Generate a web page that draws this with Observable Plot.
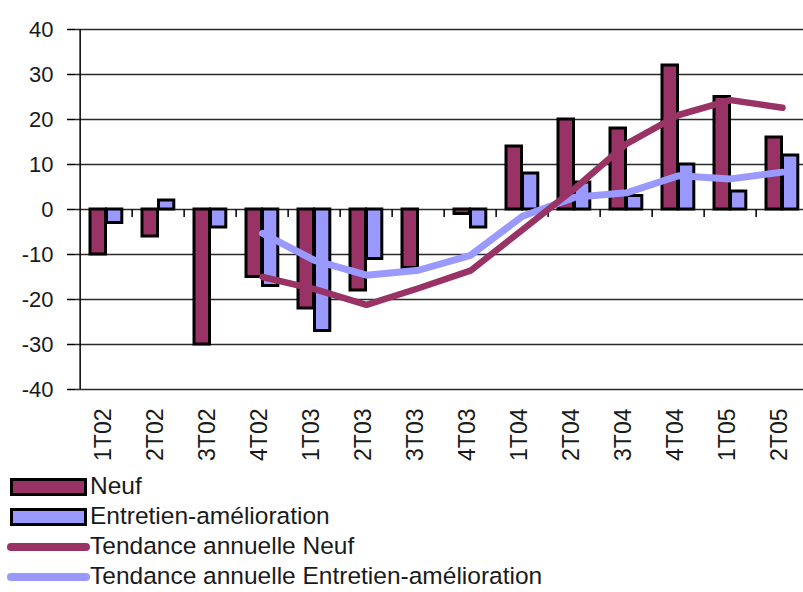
<!DOCTYPE html>
<html><head><meta charset="utf-8">
<script src="https://cdn.jsdelivr.net/npm/d3@7"></script>
<script src="https://cdn.jsdelivr.net/npm/@observablehq/plot@0.6"></script>
<style>
html,body{margin:0;padding:0;overflow:hidden;background:#fff;width:803px;height:592px;}
#chart{position:absolute;left:0;top:0;width:813px;}
#chart svg{max-width:none !important;}
#legend{position:absolute;left:0;top:472px;font-family:"Liberation Sans",Arial,sans-serif;font-size:24.5px;color:#1a1a1a;}
.row{height:30px;position:relative;width:760px;}
.sw{position:absolute;left:10px;top:6px;width:71px;height:12px;border:3px solid #000;}
.ln{position:absolute;left:7px;top:11px;width:83px;height:8px;border-radius:4px;}
.lab{position:absolute;left:90px;top:0px;white-space:nowrap;}
</style></head><body>
<div id="chart"></div>
<div id="legend"></div>
<script>
const quarters = ["1T02","2T02","3T02","4T02","1T03","2T03","3T03","4T03","1T04","2T04","3T04","4T04","1T05","2T05"];
const neuf = [-10,-6,-30,-15,-22,-18,-13,-1,14,20,18,32,25,16];
const entretien = [-3,2,-4,-17,-27,-11,0,-4,8,6,3,10,4,12];
const tendanceNeuf = [null,null,null,-15,-17.7,-21.2,-17.5,-13.6,-4.5,4.6,14.6,21,24.3,22.6];
const tendanceEntretien = [null,null,null,-5.3,-11.3,-14.6,-13.5,-10.2,-1.5,2.7,3.7,7.5,6.8,8.3];
const yTicks = [-40,-30,-20,-10,0,10,20,30,40];
const seriesNames = ["Neuf","Entretien-amélioration","Tendance annuelle Neuf","Tendance annuelle Entretien-amélioration"];
const seriesColors = ["#993366","#9999FF","#993366","#9999FF"];
const seriesKinds = ["bar","bar","line","line"];

const rows = quarters.map((q,i)=>({q, neuf:neuf[i], ent:entretien[i], tn:tendanceNeuf[i], te:tendanceEntretien[i]}));
const W = 813, H = 470, bottom = 389;
const half = (W - 75) / quarters.length / 2;
const plot = Plot.plot({
  width: W, height: H,
  marginLeft: 75, marginRight: 0, marginTop: 29, marginBottom: H - bottom,
  style: {fontFamily: "Liberation Sans, Arial, sans-serif", color: "#1a1a1a", background: "#fff", overflow: "visible", maxWidth: "none"},
  x: {type: "band", domain: quarters, padding: 0, axis: null, label: null},
  y: {domain: [-40, 40], axis: null, label: null},
  marks: [
    Plot.ruleY(yTicks, {stroke: "#2a2a2a", strokeWidth: 1.5}),
    Plot.barY(rows, {x: "q", y: "neuf", fill: seriesColors[0], stroke: "#000", strokeWidth: 3, insetLeft: 10, insetRight: 26.5}),
    Plot.barY(rows, {x: "q", y: "ent", fill: seriesColors[1], stroke: "#000", strokeWidth: 3, insetLeft: 26.5, insetRight: 10.2}),
    Plot.ruleX(quarters.slice(1), {x: d => d, y1: 0, y2: -1.8, dx: -half, stroke: "#000", strokeWidth: 1.5}),
    Plot.ruleX([quarters[0]], {x: d => d, y1: -40, y2: 40, dx: -half, stroke: "#000", strokeWidth: 1.5}),
    Plot.line(rows, {x: "q", y: "te", stroke: seriesColors[3], strokeWidth: 7, strokeLinecap: "round", strokeLinejoin: "round"}),
    Plot.line(rows, {x: "q", y: "tn", stroke: seriesColors[2], strokeWidth: 6.5, strokeLinecap: "round", strokeLinejoin: "round"}),
    Plot.axisY(yTicks, {tickSize: 8, tickPadding: 14, tickFormat: d => String(d), fontSize: 22, stroke: "#000", strokeWidth: 1.5, label: null}),
    Plot.axisX({tickSize: 0, tickRotate: -90, tickPadding: 19, fontSize: 23, anchor: "bottom", label: null, dx: -3})
  ]
});
plot.style.maxWidth = "none";
document.getElementById("chart").appendChild(plot);

const legend = document.getElementById("legend");
seriesNames.forEach((name, i) => {
  const row = document.createElement("div");
  row.className = "row";
  const sw = document.createElement("div");
  sw.className = seriesKinds[i] === "bar" ? "sw" : "ln";
  sw.style.background = seriesColors[i];
  const lab = document.createElement("div");
  lab.className = "lab";
  lab.textContent = name;
  row.appendChild(sw);
  row.appendChild(lab);
  legend.appendChild(row);
});
</script>
</body></html>
